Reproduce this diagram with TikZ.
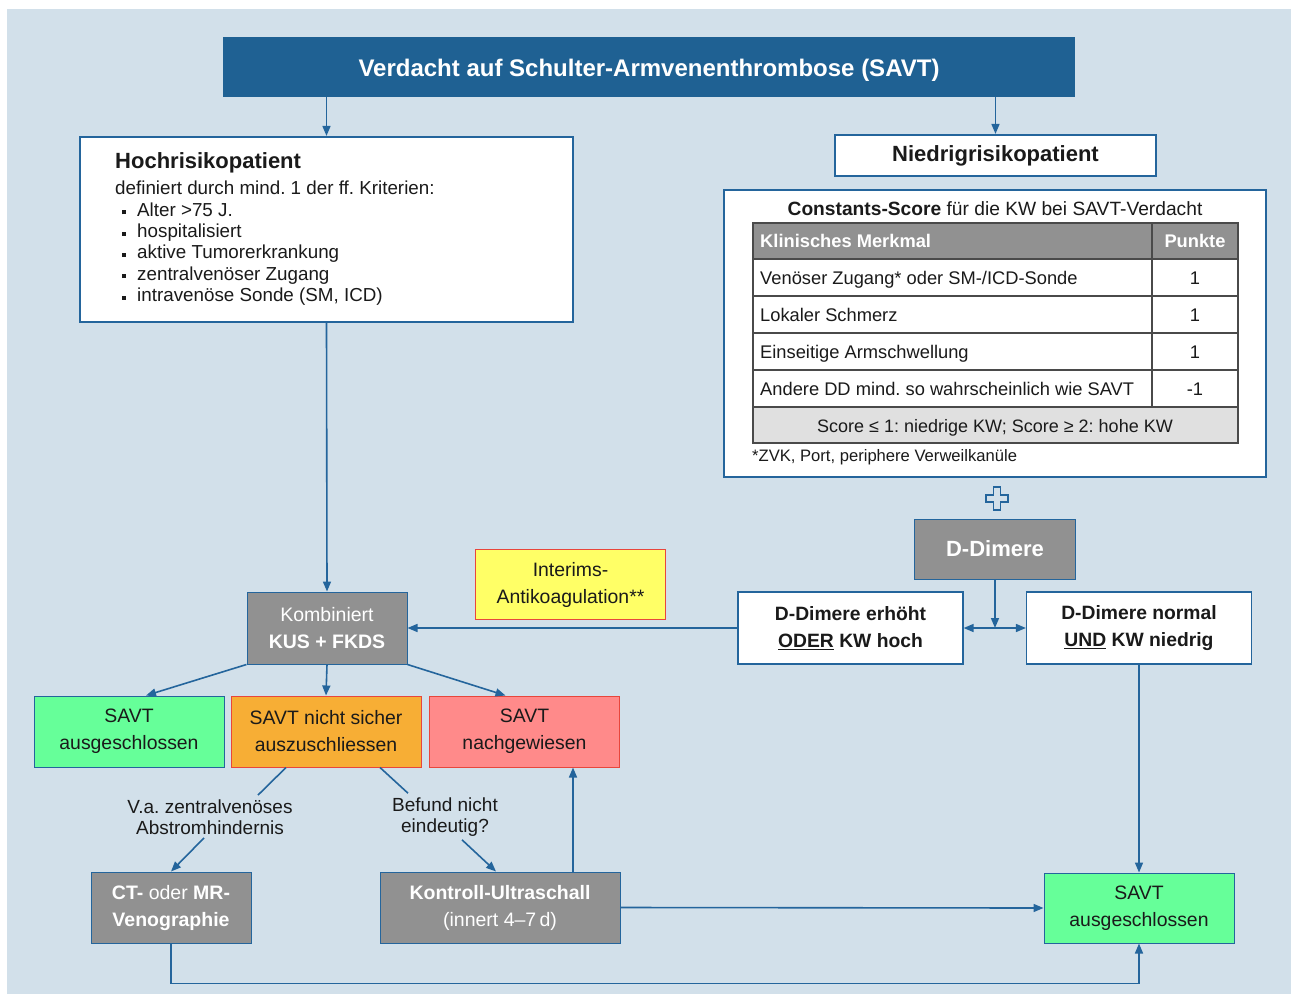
\documentclass[tikz,border=0pt]{standalone}
\usepackage{fontspec}
\setmainfont{Liberation Sans}
\usetikzlibrary{arrows.meta,calc}
\definecolor{bg}{HTML}{D2E0EA}
\definecolor{dblue}{HTML}{1F6193}
\definecolor{lblue}{HTML}{24659C}
\definecolor{gbox}{HTML}{919191}
\definecolor{grn}{HTML}{66FF99}
\definecolor{org}{HTML}{F7AE35}
\definecolor{pnk}{HTML}{FF8A8A}
\definecolor{ylw}{HTML}{FFFF66}
\definecolor{redb}{HTML}{E8463C}
\definecolor{lgray}{HTML}{E0E0E0}
\definecolor{tline}{HTML}{4A4A4A}
\definecolor{txt}{HTML}{1A1A1A}
\newcommand\fsz[2]{\fontsize{#1}{#2}\selectfont}
\newcommand\bul{\rule[2pt]{4pt}{4pt}}
\frenchspacing
\begin{document}
\begin{tikzpicture}[x=1pt,y=-1pt,
  ln/.style={draw=lblue, line width=1.6pt},
  arr/.style={ln, -{Triangle[length=10pt,width=8pt]}},
  dbl/.style={ln, {Triangle[length=10pt,width=8pt]}-{Triangle[length=10pt,width=8pt]}},
  wbox/.style={draw=lblue, line width=2.2pt, fill=white, inner sep=0},
  tbox/.style={draw=lblue, line width=1.2pt, fill=white, inner sep=0, align=center, text=txt, font=\fsz{19.3}{27}\bfseries},
  gbx/.style={draw=lblue, line width=1pt, fill=gbox, text=white, align=center, inner sep=0, font=\fsz{19.5}{27}},
  cbox/.style={line width=1pt, inner sep=0, align=center, text=txt, font=\fsz{19.4}{27}},
  lbl/.style={align=center, inner sep=0, text=txt, font=\fsz{19}{21.5}},
  tx/.style={anchor=base west, inner sep=0, text=txt},
  tfont/.style={font=\fsz{18.3}{21}},
]
\useasboundingbox (0,0) rectangle (1291,994);
\fill[bg] (7,9) rectangle (1291,994);

% title
\node[fill=dblue, minimum width=852, minimum height=60, inner sep=0] (title) at (649,67) {};
\node[anchor=base, inner sep=0, text=white, font=\fsz{24}{28}\bfseries] (titletext) at (649,76) {Verdacht auf Schulter-Armvenenthrombose (SAVT)};

% high risk
\node[wbox, minimum width=493, minimum height=185] (hoch) at (326.5,229.5) {};
\node[tx, font=\fsz{22}{26}\bfseries] (h0) at (115,168) {Hochrisikopatient};
\node[tx, font=\fsz{18.8}{21}] (h1) at (115,194) {definiert durch mind. 1 der ff. Kriterien:};
\foreach \t [count=\i] in {Alter >75 J., hospitalisiert, aktive Tumorerkrankung, zentralvenöser Zugang, {intravenöse Sonde (SM, ICD)}}{
  \node[tx, font=\fsz{18.8}{21}] (hb\i) at (122,195+21.3*\i) {\bul\hspace{11pt}\t};
}

% low risk
\node[wbox, minimum width=321, minimum height=41, font=\fsz{22}{26}\bfseries, text=txt] (nied) at (995.5,155.5) {Niedrigrisikopatient};

% constants score box
\node[wbox, minimum width=542, minimum height=287] (cs) at (995,333.5) {};
\node[anchor=base, inner sep=0, text=txt, font=\fsz{19.2}{22}] (cst) at (995,215) {\textbf{Constants-Score} für die KW bei SAVT-Verdacht};
\fill[gbox] (753,223) rectangle (1238,259);
\fill[lgray] (753,407) rectangle (1238,443);
\fill[white] (753,259) rectangle (1238,407);
\draw[tline, line width=1.3pt] (753,223) rectangle (1238,443);
\foreach \yy in {259,296,333,370,407} \draw[tline, line width=1.3pt] (753,\yy) -- (1238,\yy);
\draw[tline, line width=1.3pt] (1152,223) -- (1152,407);
\node[tx, text=white, font=\fsz{18.3}{21}\bfseries] (th1) at (760,247) {Klinisches Merkmal};
\node[anchor=base, inner sep=0, text=white, font=\fsz{18.3}{21}\bfseries] (th2) at (1195,247) {Punkte};
\node[tx, tfont] (tr1) at (760,284) {Venöser Zugang* oder SM-/ICD-Sonde};
\node[tx, tfont] (tr2) at (760,321) {Lokaler Schmerz};
\node[tx, tfont] (tr3) at (760,358) {Einseitige Armschwellung};
\node[tx, tfont] (tr4) at (760,395) {Andere DD mind. so wahrscheinlich wie SAVT};
\node[anchor=base, inner sep=0, text=txt, tfont] (tp1) at (1195,284) {1};
\node[anchor=base, inner sep=0, text=txt, tfont] (tp2) at (1195,321) {1};
\node[anchor=base, inner sep=0, text=txt, tfont] (tp3) at (1195,358) {1};
\node[anchor=base, inner sep=0, text=txt, tfont] (tp4) at (1195,395) {-1};
\node[anchor=base, inner sep=0, text=txt, font=\fsz{18}{21}] (tf) at (995,432) {Score ≤ 1: niedrige KW; Score ≥ 2: hohe KW};
\node[tx, font=\fsz{16.6}{19}] (fn) at (752,461) {*ZVK, Port, periphere Verweilkanüle};

% plus sign
\draw[lblue, line width=1.3pt, fill=bg] (993.5,487) -- (1000.5,487) -- (1000.5,495) -- (1008,495) -- (1008,502) -- (1000.5,502) -- (1000.5,510) -- (993.5,510) -- (993.5,502) -- (986,502) -- (986,495) -- (993.5,495) -- cycle;

% D-Dimere
\node[gbx, minimum width=161, minimum height=60, font=\fsz{22}{26}\bfseries] (dd) at (995,549) {D-Dimere};
\node[tbox, minimum width=225, minimum height=72] (erh) at (850.5,628) {D-Dimere erhöht\\\underline{ODER} KW hoch};
\node[tbox, minimum width=225, minimum height=72] (norm) at (1139,628) {D-Dimere normal\\\underline{UND} KW niedrig};
\coordinate (j) at (995,628);

% interim
\node[cbox, draw=redb, fill=ylw, minimum width=190, minimum height=70] (int) at (570.5,584.5) {Interims-\\Antikoagulation**};

% combined
\node[gbx, minimum width=160, minimum height=72] (komb) at (327,628) {Kombiniert\\\textbf{KUS + FKDS}};

% result boxes
\node[cbox, draw=lblue, fill=grn, minimum width=190, minimum height=71] (sa1) at (129,731.5) {SAVT\\ausgeschlossen};
\node[cbox, draw=redb, fill=org, minimum width=190, minimum height=71] (sn) at (326,731.5) {SAVT nicht sicher\\auszuschliessen};
\node[cbox, draw=redb, fill=pnk, minimum width=190, minimum height=71] (sp) at (524.5,731.5) {SAVT\\nachgewiesen};

% labels
\node[lbl] (l1) at (210,817) {V.a. zentralvenöses\\Abstromhindernis};
\node[lbl] (l2) at (445,817) {Befund nicht\\eindeutig?};

% bottom boxes
\node[gbx, minimum width=160, minimum height=71] (ct) at (171,907.5) {\textbf{CT-} oder \textbf{MR-}\\\textbf{Venographie}};
\node[gbx, minimum width=240, minimum height=71] (ku) at (500,907.5) {\textbf{Kontroll-Ultraschall}\\(innert 4–7\,d)};
\node[cbox, draw=lblue, fill=grn, minimum width=190, minimum height=70] (g2) at (1139,908) {SAVT\\ausgeschlossen};

% connectors
\draw[arr] (title.south -| hoch.north) -- (hoch.north);
\draw[arr] (title.south -| nied.north) -- (nied.north);
\draw[arr] (hoch.south) -- (komb.north);
\draw[arr] (dd.south) -- (j);
\draw[dbl] (erh.east) -- (norm.west);
\draw[arr] (erh.west) -- (komb.east);
\draw[arr] (komb.south west) -- ([xshift=17pt]sa1.north);
\draw[arr] (komb.south) -- (sn.north);
\draw[arr] (komb.south east) -- ([xshift=-19pt]sp.north);
\draw[ln] ([xshift=-40pt]sn.south) -- ([xshift=48pt,yshift=4pt]l1.north);
\draw[arr] ([xshift=-6pt,yshift=-3pt]l1.south) -- (ct.north);
\draw[ln] ([xshift=54pt]sn.south) -- ([xshift=-37pt,yshift=4pt]l2.north);
\draw[arr] ([xshift=17pt,yshift=-3pt]l2.south) -- ([xshift=-4pt]ku.north);
\draw[arr] ([xshift=73pt]ku.north) -- ([xshift=73pt]ku.north |- sp.south);
\draw[arr] (ku.east) -- (g2.west);
\draw[arr] (norm.south) -- (g2.north);
\draw[arr] (ct.south) -- ++(0,40) -| (g2.south);
\end{tikzpicture}
\end{document}
